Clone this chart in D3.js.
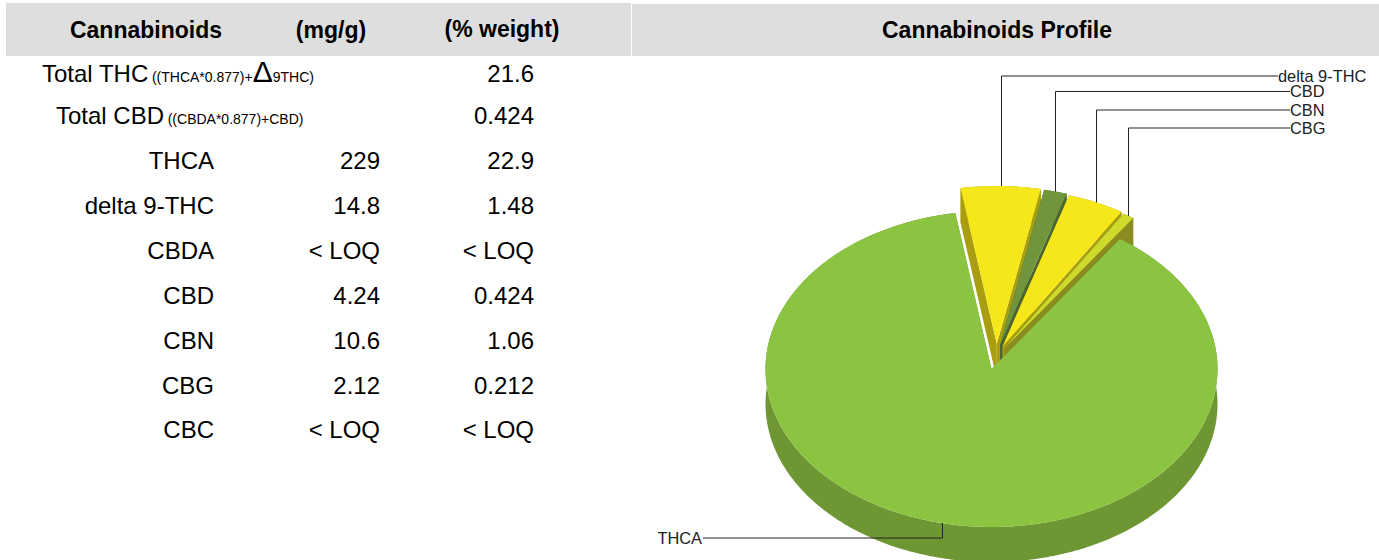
<!DOCTYPE html>
<html>
<head>
<meta charset="utf-8">
<script src="https://cdn.jsdelivr.net/npm/d3@7"></script>
<style>
  html, body { margin: 0; padding: 0; background: #fff; overflow: hidden; }
  text { font-family: "Liberation Sans", Arial, sans-serif; }
</style>
</head>
<body>
<div id="chart"></div>
<script>
// table values
var tableNames = ["THCA", "delta 9-THC", "CBDA", "CBD", "CBN", "CBG", "CBC"];
var tableMg = ["229", "14.8", "< LOQ", "4.24", "10.6", "2.12", "< LOQ"];
var tablePct = ["22.9", "1.48", "< LOQ", "0.424", "1.06", "0.212", "< LOQ"];
var tableHeaders = ["Cannabinoids", "(mg/g)", "(% weight)"];
var totalThc = "21.6";
var totalCbd = "0.424";

// pie values, clockwise from the left edge of the delta 9 slice
var pieNames = ["delta 9-THC", "CBD", "CBN", "CBG", "THCA"];
var pieValues = [14.8, 4.24, 10.6, 2.12, 229];
var pieTops = ["#f6e71a", "#70953d", "#f6e71a", "#cedb2d", "#8bc441"];
var pieSides = ["#a89e10", "#4b6530", "#a89e10", "#8a8c1f", "#6e9633"];

var width = 1379, height = 560;
var svg = d3.select("#chart").append("svg").attr("width", width).attr("height", height).style("display", "block");

// header bands
svg.append("rect").attr("x", 6).attr("y", 3).attr("width", 625).attr("height", 53).attr("fill", "#dedede");
svg.append("rect").attr("x", 632).attr("y", 4).attr("width", 747).attr("height", 52).attr("fill", "#dedede");

var headerX = [146, 331, 502];
var headerY = [30, 30, 29];
tableHeaders.forEach(function (h, i) {
  svg.append("text").attr("x", headerX[i]).attr("y", headerY[i]).attr("dy", "0.35em")
    .attr("text-anchor", "middle").attr("font-size", 23).attr("font-weight", "bold").text(h);
});
svg.append("text").attr("x", 997).attr("y", 30).attr("dy", "0.35em")
  .attr("text-anchor", "middle").attr("font-size", 23).attr("font-weight", "bold").text("Cannabinoids Profile");

// totals rows
var t1 = svg.append("text").attr("x", 42).attr("y", 74).attr("dy", "0.35em").attr("font-size", 24);
t1.append("tspan").text("Total THC ");
t1.append("tspan").attr("font-size", 14).attr("dx", -3).text("((THCA*0.877)+");
t1.append("tspan").attr("font-size", 30).text("\u0394");
t1.append("tspan").attr("font-size", 14).text("9THC)");
var t2 = svg.append("text").attr("x", 56).attr("y", 116).attr("dy", "0.35em").attr("font-size", 24);
t2.append("tspan").text("Total CBD ");
t2.append("tspan").attr("font-size", 14).attr("dx", -3).text("((CBDA*0.877)+CBD)");

function cell(x, y, s) {
  svg.append("text").attr("x", x).attr("y", y).attr("dy", "0.35em")
    .attr("text-anchor", "end").attr("font-size", 24).text(s);
}
cell(534, 74, totalThc);
cell(534, 116, totalCbd);

var rowY = d3.scaleLinear().domain([0, 6]).range([161, 430]);
tableNames.forEach(function (n, i) {
  cell(214, rowY(i), n);
  cell(380, rowY(i), tableMg[i]);
  cell(534, rowY(i), tablePct[i]);
});

// pie, tilted: x and y scales map the unit circle onto the ellipse
var cx = 991.5, cy = 369, rx = 226, ry = 158, depth = 35;
var shiftX = 5, explodeX = 15, explodeY = 25;
var sx = d3.scaleLinear().domain([-1, 1]).range([cx - rx, cx + rx]);
var sy = d3.scaleLinear().domain([-1, 1]).range([cy - ry, cy + ry]);

var arcs = d3.pie().sort(null).startAngle(-9.2 * Math.PI / 180).endAngle((360 - 9.2) * Math.PI / 180)(pieValues);
var line = d3.line();

function outerPoints(a, ox, oy) {
  var n = Math.max(2, Math.ceil((a.endAngle - a.startAngle) / 0.01));
  return d3.range(n + 1).map(function (k) {
    var t = a.startAngle + (a.endAngle - a.startAngle) * k / n;
    return [sx(Math.sin(t)) + ox, sy(-Math.cos(t)) + oy];
  });
}

var slices = arcs.map(function (a, i) {
  var mid = (a.startAngle + a.endAngle) / 2;
  var exploded = pieNames[i] !== "THCA";
  var ox = exploded ? shiftX + explodeX * Math.sin(mid) : 0;
  var oy = exploded ? -explodeY * Math.cos(mid) : 0;
  return { a: a, i: i, mid: mid, ox: ox, oy: oy, rim: outerPoints(a, ox, oy) };
});

slices.forEach(function (s) {
  var apex = [cx + s.ox, cy + s.oy];
  var rim = s.rim;
  var first = rim[0], last = rim[rim.length - 1];
  var down = function (p) { return [p[0], p[1] + depth]; };
  var g = svg.append("g");
  // cut faces
  g.append("path").attr("fill", pieSides[s.i]).attr("d", line([apex, first, down(first), down(apex)]) + "Z");
  g.append("path").attr("fill", pieSides[s.i]).attr("d", line([apex, last, down(last), down(apex)]) + "Z");
  // outer wall
  g.append("path").attr("fill", pieSides[s.i]).attr("d", line(rim.concat(rim.map(down).reverse())) + "Z");
  // top
  g.append("path").attr("fill", pieTops[s.i]).attr("d", line([apex].concat(rim)) + "Z");
});

// leader lines
var labelLineY = [76, 91.5, 110, 128, 538];
var labelEndX = [1278, 1290, 1290, 1290, 703];
slices.forEach(function (s) {
  var px = sx(Math.sin(s.mid)) + s.ox;
  var py = sy(-Math.cos(s.mid)) + s.oy;
  svg.append("path").attr("fill", "none").attr("stroke", "#222").attr("stroke-width", 1)
    .attr("d", line([[Math.round(px) + 0.5, py], [Math.round(px) + 0.5, labelLineY[s.i]], [labelEndX[s.i], labelLineY[s.i]]]));
  var isLeft = labelEndX[s.i] < cx;
  svg.append("text").attr("x", labelEndX[s.i] + (isLeft ? -1 : 0)).attr("y", labelLineY[s.i]).attr("dy", "0.35em")
    .attr("text-anchor", isLeft ? "end" : "start").attr("font-size", 16.4).attr("fill", "#222").text(pieNames[s.i]);
});
</script>
</body>
</html>
